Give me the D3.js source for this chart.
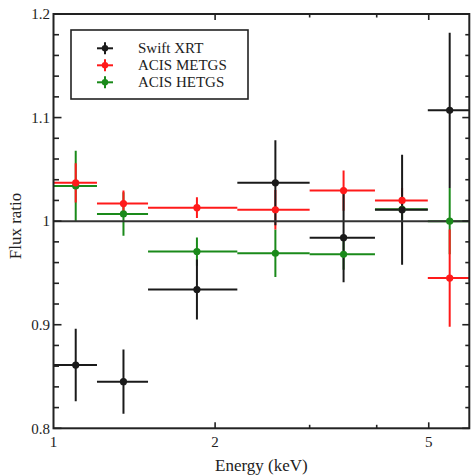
<!DOCTYPE html>
<html>
<head>
<meta charset="utf-8">
<script src="https://cdn.jsdelivr.net/npm/d3@7"></script>
<style>
  body { margin: 0; background: #fff; }
  text { font-family: "Liberation Serif", "Times New Roman", serif; fill: #222; }
</style>
</head>
<body>
<div id="chart"></div>
<script>
// energy bins (keV)
var binLo = [1.0, 1.205, 1.50, 2.20, 3.0, 3.97, 4.98];
var binHi = [1.205, 1.50, 2.20, 3.0, 3.97, 4.98, 6.2];
var energy = [1.10, 1.35, 1.85, 2.59, 3.47, 4.46, 5.47];

// flux ratios and errors
var xrtVal = [0.861, 0.845, 0.934, 1.037, 0.984, 1.011, 1.107];
var xrtErr = [0.035, 0.031, 0.029, 0.041, 0.043, 0.053, 0.075];
var metgVal = [1.037, 1.017, 1.013, 1.011, 1.0295, 1.020, 0.945];
var metgErr = [0.019, 0.0125, 0.010, 0.019, 0.0195, 0.012, 0.047];
var hetgVal = [1.034, 1.007, 0.9706, 0.969, 0.968, 1.0115, 1.0];
var hetgErr = [0.034, 0.021, 0.0136, 0.023, 0.015, 0.010, 0.032];

var seriesNames = ["Swift XRT", "ACIS METGS", "ACIS HETGS"];
var seriesColors = ["#1a1a1a", "#ff1a1a", "#1a8a1a"];

var xTickVals = [1, 2, 5];
var xMinor = [3, 4];
var yTickVals = [0.8, 0.9, 1.0, 1.1, 1.2];
var yTickLabels = ["0.8", "0.9", "1", "1.1", "1.2"];

var width = 475, height = 476;
var pL = 53.5, pR = 469.3, pT = 14, pB = 428.3;

var svg = d3.select("#chart").append("svg")
    .attr("width", width)
    .attr("height", height);

var x = d3.scaleLog().domain([1, 5.95]).range([pL, pR]);
var y = d3.scaleLinear().domain([0.8, 1.2]).range([pB, pT]);

svg.append("clipPath").attr("id", "clip")
  .append("rect")
    .attr("x", pL).attr("y", pT)
    .attr("width", pR - pL).attr("height", pB - pT);

var plot = svg.append("g").attr("clip-path", "url(#clip)");

function makeRows(vals, errs) {
    return vals.map(function(v, i) {
        return {e: energy[i], lo: binLo[i], hi: binHi[i], v: v, err: errs[i]};
    });
}

// draw order: HETGS, METGS, XRT (black on top)
var series = [
    {rows: makeRows(hetgVal, hetgErr), color: seriesColors[2]},
    {rows: makeRows(metgVal, metgErr), color: seriesColors[1]},
    {rows: makeRows(xrtVal, xrtErr), color: seriesColors[0]}
];

series.forEach(function(s) {
    var g = plot.append("g");
    g.selectAll(".xerr").data(s.rows).enter().append("line")
        .attr("x1", function(d) { return x(d.lo); })
        .attr("x2", function(d) { return x(d.hi); })
        .attr("y1", function(d) { return y(d.v); })
        .attr("y2", function(d) { return y(d.v); })
        .attr("stroke", s.color).attr("stroke-width", 2);
    g.selectAll(".yerr").data(s.rows).enter().append("line")
        .attr("x1", function(d) { return x(d.e); })
        .attr("x2", function(d) { return x(d.e); })
        .attr("y1", function(d) { return y(d.v - d.err); })
        .attr("y2", function(d) { return y(d.v + d.err); })
        .attr("stroke", s.color).attr("stroke-width", 2);
});

// reference line at 1
plot.append("line")
    .attr("x1", pL).attr("x2", pR)
    .attr("y1", y(1)).attr("y2", y(1))
    .attr("stroke", "#333").attr("stroke-width", 2);

series.forEach(function(s) {
    plot.append("g").selectAll("circle").data(s.rows).enter().append("circle")
        .attr("cx", function(d) { return x(d.e); })
        .attr("cy", function(d) { return y(d.v); })
        .attr("r", 3.6)
        .attr("fill", s.color);
});

// frame
svg.append("rect")
    .attr("x", pL).attr("y", pT)
    .attr("width", pR - pL).attr("height", pB - pT)
    .attr("fill", "none").attr("stroke", "#222").attr("stroke-width", 2);

// ticks (inward)
var tickG = svg.append("g").attr("stroke", "#222").attr("stroke-width", 1.6);
var xTicksAll = xTickVals.slice(1).map(function(v) { return {v: v, len: 6}; })
    .concat(xMinor.map(function(v) { return {v: v, len: 3.5}; }));
xTicksAll.forEach(function(t) {
    tickG.append("line").attr("x1", x(t.v)).attr("x2", x(t.v))
        .attr("y1", pB).attr("y2", pB - t.len);
    tickG.append("line").attr("x1", x(t.v)).attr("x2", x(t.v))
        .attr("y1", pT).attr("y2", pT + t.len);
});
d3.range(0, 21).forEach(function(i) {
    var v = 0.8 + i * 0.02;
    var major = i % 5 === 0;
    tickG.append("line").attr("x1", pL).attr("x2", pL + (major ? 8 : 5.5))
        .attr("y1", y(v)).attr("y2", y(v));
    tickG.append("line").attr("x1", pR).attr("x2", pR - (major ? 7 : 4))
        .attr("y1", y(v)).attr("y2", y(v));
});

// tick labels
svg.append("g").selectAll("text").data(xTickVals).enter().append("text")
    .attr("x", function(d) { return x(d); })
    .attr("y", pB + 19)
    .attr("text-anchor", "middle")
    .attr("font-size", 15)
    .text(function(d) { return d; });

svg.append("g").selectAll("text").data(yTickVals).enter().append("text")
    .attr("x", pL - 3.5)
    .attr("y", function(d) { return y(d); })
    .attr("dy", "0.35em")
    .attr("text-anchor", "end")
    .attr("font-size", 15)
    .text(function(d, i) { return yTickLabels[i]; });

// axis titles
svg.append("text")
    .attr("x", (pL + pR) / 2)
    .attr("y", 471)
    .attr("text-anchor", "middle")
    .attr("font-size", 17)
    .text("Energy (keV)");

svg.append("text")
    .attr("transform", "translate(21," + 226 + ") rotate(-90)")
    .attr("text-anchor", "middle")
    .attr("font-size", 17)
    .text("Flux ratio");

// legend
var legend = svg.append("g");
legend.append("rect")
    .attr("x", 71).attr("y", 30).attr("width", 177).attr("height", 69)
    .attr("fill", "#fff").attr("stroke", "#222").attr("stroke-width", 1.6);

seriesNames.forEach(function(name, i) {
    var cy = 48.3 + i * 17;
    var c = seriesColors[i];
    legend.append("line").attr("x1", 97).attr("x2", 113).attr("y1", cy).attr("y2", cy)
        .attr("stroke", c).attr("stroke-width", 2);
    legend.append("line").attr("x1", 105).attr("x2", 105).attr("y1", cy - 6).attr("y2", cy + 6)
        .attr("stroke", c).attr("stroke-width", 2);
    legend.append("circle").attr("cx", 105).attr("cy", cy).attr("r", 3.2).attr("fill", c);
    legend.append("text")
        .attr("x", 138).attr("y", cy + 5)
        .attr("font-size", 15)
        .text(name);
});
</script>
</body>
</html>
